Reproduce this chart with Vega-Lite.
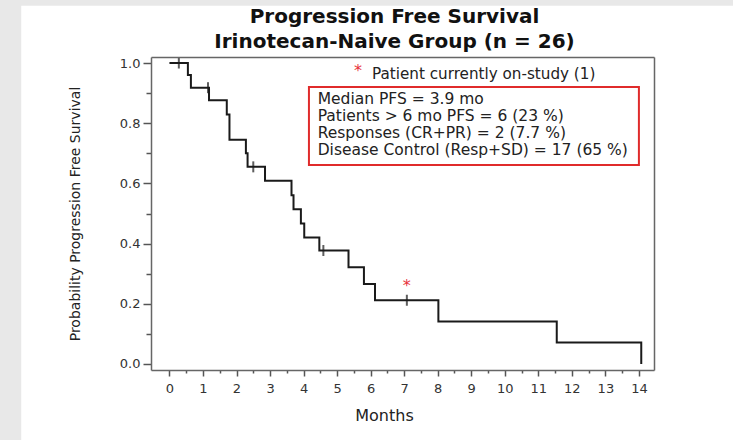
{
  "$schema": "https://vega.github.io/schema/vega-lite/v6.json",
  "width": 503,
  "height": 313,
  "autosize": {"type": "none"},
  "padding": {"left": 151, "top": 57, "right": 79, "bottom": 70},
  "background": "#e8e8e8",
  "config": {"font": "DejaVu Sans", "view": {"stroke": null}},
  "title": {
    "text": ["Progression Free Survival", "Irinotecan-Naive Group (n = 26)"],
    "font": "DejaVu Sans",
    "fontSize": 20,
    "fontWeight": "bold",
    "color": "#111111",
    "lineHeight": 25,
    "anchor": "middle",
    "frame": "group",
    "dx": -8,
    "offset": -46
  },
  "resolve": {"axis": {"x": "independent", "y": "independent"}},
  "layer": [
    {
      "data": {"values": [{}]},
      "mark": {"type": "rect", "fill": "white", "clip": false},
      "encoding": {
        "x": {"datum": -4.42, "type": "quantitative",
          "scale": {"domain": [-0.55, 14.45], "nice": false, "zero": false},
          "axis": {"orient": "top", "domain": true, "ticks": false, "labels": false, "grid": false, "title": null, "domainColor": "#666666", "domainWidth": 1.5, "zindex": 1}},
        "x2": {"datum": 20},
        "y": {"datum": -1, "type": "quantitative",
          "scale": {"domain": [-0.02, 1.02], "nice": false, "zero": false},
          "axis": {"orient": "right", "domain": true, "ticks": false, "labels": false, "grid": false, "title": null, "domainColor": "#666666", "domainWidth": 1.5, "zindex": 1}},
        "y2": {"datum": 1.19}
      }
    },
    {
      "data": {"values": [
        {"t": 0, "s": 1.0},
        {"t": 0.55, "s": 0.96},
        {"t": 0.64, "s": 0.918},
        {"t": 1.18, "s": 0.876},
        {"t": 1.71, "s": 0.829},
        {"t": 1.79, "s": 0.745},
        {"t": 2.28, "s": 0.700},
        {"t": 2.33, "s": 0.655},
        {"t": 2.85, "s": 0.609},
        {"t": 3.64, "s": 0.561},
        {"t": 3.70, "s": 0.514},
        {"t": 3.92, "s": 0.467},
        {"t": 4.02, "s": 0.420},
        {"t": 4.47, "s": 0.377},
        {"t": 5.34, "s": 0.321},
        {"t": 5.80, "s": 0.266},
        {"t": 6.13, "s": 0.212},
        {"t": 8.02, "s": 0.141},
        {"t": 11.55, "s": 0.071},
        {"t": 14.07, "s": 0.0}
      ]},
      "mark": {"type": "line", "interpolate": "step-after", "color": "#1a1a1a", "strokeWidth": 2},
      "encoding": {
        "x": {"field": "t", "type": "quantitative",
          "scale": {"domain": [-0.55, 14.45], "nice": false, "zero": false},
          "axis": {
            "orient": "bottom", "zindex": 1, "grid": false,
            "values": [0,0.5,1,1.5,2,2.5,3,3.5,4,4.5,5,5.5,6,6.5,7,7.5,8,8.5,9,9.5,10,10.5,11,11.5,12,12.5,13,13.5,14],
            "labelExpr": "datum.value % 1 === 0 ? format(datum.value, 'd') : ''",
            "tickSize": {"condition": {"test": "datum.value % 1 === 0", "value": 6}, "value": 3},
            "tickColor": "#555555", "tickWidth": 1.5,
            "domainColor": "#666666", "domainWidth": 1.5,
            "labelFont": "DejaVu Sans", "labelFontSize": 13, "labelColor": "#333333", "labelPadding": 6,
            "labelFlush": false,
            "title": "Months", "titleFont": "DejaVu Sans", "titleFontSize": 16, "titleFontWeight": "normal", "titleColor": "#222222",
            "titlePadding": 12, "titleX": 233
          }},
        "y": {"field": "s", "type": "quantitative",
          "scale": {"domain": [-0.02, 1.02], "nice": false, "zero": false},
          "axis": {
            "orient": "left", "zindex": 1, "grid": false,
            "values": [0,0.1,0.2,0.3,0.4,0.5,0.6,0.7,0.8,0.9,1.0],
            "labelExpr": "round(datum.value * 10) % 2 === 0 ? format(datum.value, '.1f') : ''",
            "tickSize": {"condition": {"test": "round(datum.value * 10) % 2 === 0", "value": 8}, "value": 5},
            "tickColor": "#555555", "tickWidth": 1.5,
            "domainColor": "#666666", "domainWidth": 1.5,
            "labelFont": "DejaVu Sans", "labelFontSize": 13, "labelColor": "#333333", "labelPadding": 3,
            "labelFlush": false,
            "title": "Probability Progression Free Survival", "titleFont": "DejaVu Sans", "titleFontSize": 14, "titleFontWeight": "normal", "titleColor": "#222222",
            "titlePadding": 37
          }}
      }
    },
    {
      "data": {"name": "censored", "values": [
        {"t": 0.28, "s": 1.0, "onstudy": false},
        {"t": 1.15, "s": 0.918, "onstudy": false},
        {"t": 2.50, "s": 0.655, "onstudy": false},
        {"t": 4.59, "s": 0.377, "onstudy": false},
        {"t": 7.08, "s": 0.212, "onstudy": true}
      ]},
      "layer": [
        {
          "mark": {"type": "tick", "orient": "vertical", "size": 11, "thickness": 2, "color": "#1a1a1a"},
          "encoding": {
            "x": {"field": "t", "type": "quantitative", "axis": null},
            "y": {"field": "s", "type": "quantitative", "axis": null}
          }
        },
        {
          "transform": [{"filter": "datum.onstudy"}],
          "mark": {"type": "text", "text": "*", "color": "#e8323c", "fontSize": 16, "baseline": "middle", "dy": -14},
          "encoding": {
            "x": {"field": "t", "type": "quantitative", "axis": null},
            "y": {"field": "s", "type": "quantitative", "axis": null}
          }
        }
      ]
    },
    {
      "data": {"values": [{}]},
      "layer": [
        {
          "mark": {"type": "text", "text": "*", "color": "#e8323c", "fontSize": 16, "baseline": "middle", "align": "center"},
          "encoding": {
            "x": {"datum": 5.62, "type": "quantitative", "axis": null},
            "y": {"datum": 0.975, "type": "quantitative", "axis": null}
          }
        },
        {
          "mark": {"type": "text", "text": "Patient currently on-study (1)", "color": "#222222", "fontSize": 15.2, "baseline": "middle", "align": "left"},
          "encoding": {
            "x": {"datum": 6.04, "type": "quantitative", "axis": null},
            "y": {"datum": 0.963, "type": "quantitative", "axis": null}
          }
        },
        {
          "mark": {"type": "rect", "filled": false, "stroke": "#e02b2b", "strokeWidth": 2},
          "encoding": {
            "x": {"datum": 4.16, "type": "quantitative", "axis": null},
            "x2": {"datum": 14.0},
            "y": {"datum": 0.661, "type": "quantitative", "axis": null},
            "y2": {"datum": 0.920}
          }
        }
      ]
    },
    {
      "data": {"values": [
        {"note": ["Median PFS = 3.9 mo", "Patients > 6 mo PFS = 6 (23 %)", "Responses (CR+PR) = 2 (7.7 %)", "Disease Control (Resp+SD) = 17 (65 %)"]}
      ]},
      "mark": {"type": "text", "color": "#222222", "fontSize": 15.5, "baseline": "top", "align": "left", "lineHeight": 17},
      "encoding": {
        "text": {"field": "note"},
        "x": {"datum": 4.42, "type": "quantitative", "axis": null},
        "y": {"datum": 0.905, "type": "quantitative", "axis": null}
      }
    }
  ]
}
